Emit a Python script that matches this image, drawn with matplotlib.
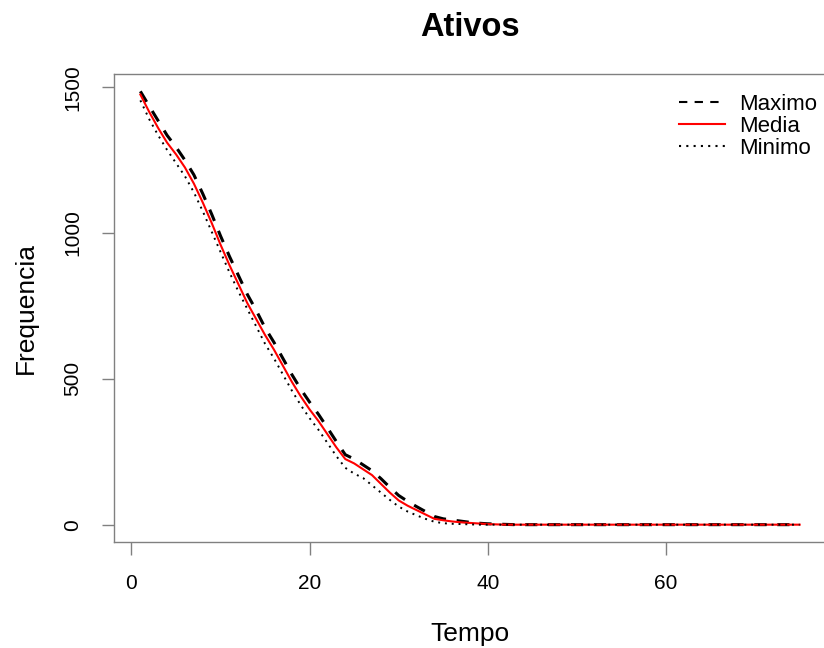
import matplotlib.pyplot as plt

plt.rcParams['font.family'] = ['Liberation Sans', 'DejaVu Sans']

# Numero de ativos por passo de tempo (maximo, media e minimo das simulacoes)
tempo = list(range(1, 76))

maximo = [1486, 1435, 1385, 1335, 1295, 1250, 1200, 1135, 1065, 990,
          920, 855, 790, 735, 675, 625, 570, 515, 465, 420,
          378, 332, 285, 240, 225, 205, 185, 158, 128, 100,
          80, 62, 45, 28, 20, 16, 12, 8, 5, 3,
          2, 1] + [0] * 33

media = [1475, 1415, 1360, 1310, 1270, 1225, 1170, 1105, 1035, 960,
         890, 825, 760, 705, 650, 600, 545, 490, 440, 395,
         355, 310, 265, 225, 210, 190, 170, 140, 110, 83,
         65, 50, 35, 20, 15, 11, 8, 6, 4, 2,
         1] + [0] * 34

minimo = [1455, 1390, 1335, 1285, 1240, 1195, 1140, 1075, 1005, 935,
          865, 800, 740, 680, 620, 570, 515, 460, 410, 365,
          325, 280, 235, 195, 175, 160, 135, 110, 85, 62,
          45, 32, 20, 10, 5, 3, 2, 1] + [0] * 37

fig = plt.figure(figsize=(8.24, 6.48), dpi=100)
ax = fig.add_axes([114 / 824, 106 / 648, 712 / 824, 468 / 648])

ax.plot(tempo, maximo, color='black', linewidth=2.2, linestyle=(0, (4, 3.5)), label='Maximo')
ax.plot(tempo, media, color='red', linewidth=1.5, label='Media')
ax.plot(tempo, minimo, color='black', linewidth=1.4, linestyle=(0, (1, 2.5)), label='Minimo')

# margem de 4% como no R
xr = max(tempo) - min(tempo)
ax.set_xlim(min(tempo) - 0.04 * xr, max(tempo) + 0.04 * xr)
ymax = max(maximo)
ax.set_ylim(-0.04 * ymax, ymax * 1.04)

ax.set_xticks([0, 20, 40, 60])
ax.set_yticks([0, 500, 1000, 1500])
ax.tick_params(axis='both', direction='out', length=9, width=1, color='#808080',
               labelsize=15, pad=14)
for lab in ax.get_yticklabels():
    lab.set_rotation(90)
    lab.set_va('center')
for sp in ax.spines.values():
    sp.set_color('#808080')
    sp.set_linewidth(1)

ax.set_xlabel('Tempo', fontsize=19, labelpad=21)
ax.set_ylabel('Frequencia', fontsize=19, labelpad=18)
fig.text(470 / 824, 1 - 28 / 648, 'Ativos', fontsize=23.5, fontweight='bold',
         ha='center', va='center')

leg = ax.legend(loc='upper right', bbox_to_anchor=(817 / 824, 1 - 94 / 648),
                bbox_transform=fig.transFigure, frameon=False, fontsize=16,
                handlelength=2.05, labelspacing=0.04, handletextpad=0.65,
                borderpad=0, borderaxespad=0)
for h in leg.get_lines():
    h.set_linewidth(1.5)

fig.savefig('out.png', dpi=100)
